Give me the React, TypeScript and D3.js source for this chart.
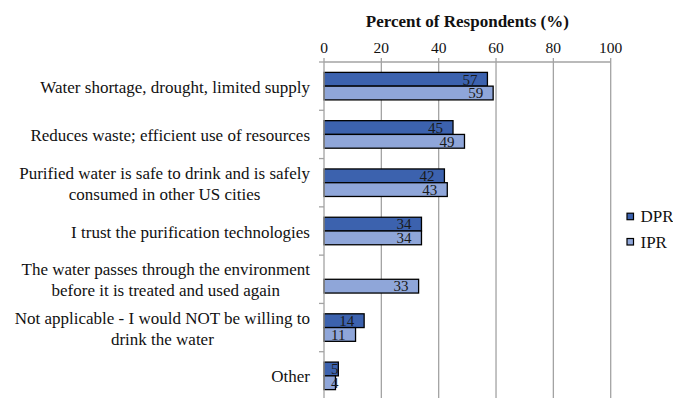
import React, { useEffect, useRef } from "react";
import * as d3 from "d3";

// Reasons given for willingness to drink purified water
const categories: string[] = [
  "Water shortage, drought, limited supply",
  "Reduces waste; efficient use of resources",
  "Purified water is safe to drink and is safely\nconsumed in other US cities",
  "I trust the purification technologies",
  "The water passes through the environment\nbefore it is treated and used again",
  "Not applicable - I would NOT be willing to\ndrink the water",
  "Other",
];
const seriesNames: string[] = ["DPR", "IPR"];
const dprValues: (number | null)[] = [57, 45, 42, 34, null, 14, 5];
const iprValues: (number | null)[] = [59, 49, 43, 34, 33, 11, 4];
const xTicks: number[] = [0, 20, 40, 60, 80, 100];
const axisTitle = "Percent of Respondents (%)";

const W = 673;
const H = 398;
const FONT = "Liberation Serif, Tinos, Times New Roman, Times, DejaVu Serif, serif";
const COLORS = ["#3c62ae", "#8fa6d9"];
const GRID = "#a3a3a3";

export default function App() {
  const ref = useRef<SVGSVGElement | null>(null);

  useEffect(() => {
    const svg = d3.select(ref.current);
    svg.selectAll("*").remove();

    const left = 324;
    const right = 610.7;
    const top = 62;
    const bottom = 400;

    const x = d3.scaleLinear().domain([0, 100]).range([left, right]);
    const y = d3
      .scaleBand<number>()
      .domain(d3.range(categories.length))
      .range([top, bottom]);
    const barH = y.bandwidth() * 0.285;

    const g = svg.append("g").style("font-family", FONT);

    // vertical gridlines
    g.selectAll("line.grid")
      .data(xTicks.filter((t) => t > 0))
      .join("line")
      .attr("x1", (d) => x(d))
      .attr("x2", (d) => x(d))
      .attr("y1", top)
      .attr("y2", bottom)
      .attr("stroke", GRID)
      .attr("stroke-width", 1.3);

    // top axis line and ticks
    g.append("line")
      .attr("x1", left)
      .attr("x2", right)
      .attr("y1", top)
      .attr("y2", top)
      .attr("stroke", GRID)
      .attr("stroke-width", 1.3);
    g.selectAll("line.xtick")
      .data(xTicks)
      .join("line")
      .attr("x1", (d) => x(d))
      .attr("x2", (d) => x(d))
      .attr("y1", top - 4)
      .attr("y2", top)
      .attr("stroke", GRID)
      .attr("stroke-width", 1.3);
    g.selectAll("text.xlab")
      .data(xTicks)
      .join("text")
      .attr("x", (d) => x(d))
      .attr("y", 53)
      .attr("text-anchor", "middle")
      .style("font-size", "15.5px")
      .attr("fill", "#111")
      .text((d) => String(d));

    g.append("text")
      .attr("x", (left + right) / 2)
      .attr("y", 27)
      .attr("text-anchor", "middle")
      .style("font-size", "17px")
      .style("font-weight", "bold")
      .attr("fill", "#111")
      .text(axisTitle);

    // bars
    const seriesData = [dprValues, iprValues];
    seriesData.forEach((vals, si) => {
      const rows = vals
        .map((v, i) => ({ v, i }))
        .filter((d) => d.v !== null) as { v: number; i: number }[];
      const yOf = (i: number) =>
        y(i)! + y.bandwidth() / 2 - barH + si * barH;

      g.selectAll(`rect.s${si}`)
        .data(rows)
        .join("rect")
        .attr("x", x(0))
        .attr("y", (d) => yOf(d.i))
        .attr("width", (d) => x(d.v) - x(0))
        .attr("height", barH)
        .attr("fill", COLORS[si])
        .attr("stroke", "#000")
        .attr("stroke-width", 1.3);

      const labels = g
        .selectAll(`text.l${si}`)
        .data(rows)
        .join("text")
        .attr("y", (d) => yOf(d.i) + barH / 2 + 5.3)
        .attr("text-anchor", "end")
        .style("font-size", "15px")
        .attr("fill", "#1a1a1a")
        .text((d) => String(d.v));
      labels.each(function (d) {
        const el = this as SVGTextElement;
        const w = el.getComputedTextLength();
        const xr = Math.max(x(d.v) - 10, x(0) + 7 + w);
        d3.select(el).attr("x", xr);
      });
    });

    // category axis
    g.append("line")
      .attr("x1", left)
      .attr("x2", left)
      .attr("y1", top)
      .attr("y2", bottom)
      .attr("stroke", GRID)
      .attr("stroke-width", 1.3);
    g.selectAll("line.ytick")
      .data(d3.range(categories.length + 1))
      .join("line")
      .attr("x1", left - 5)
      .attr("x2", left)
      .attr("y1", (d) => top + d * y.step())
      .attr("y2", (d) => top + d * y.step())
      .attr("stroke", GRID)
      .attr("stroke-width", 1.3);

    const labelRight = 310;
    categories.forEach((cat, i) => {
      const lines = cat.split("\n");
      const cy = y(i)! + y.bandwidth() / 2 + 1;
      const t = g
        .append("text")
        .style("font-size", "17px")
        .attr("fill", "#111")
        .attr("text-anchor", "middle");
      lines.forEach((ln, k) => {
        t.append("tspan")
          .attr("y", cy + 5.5 + (k - (lines.length - 1) / 2) * 21)
          .text(ln);
      });
      const tspans = t.selectAll<SVGTSpanElement, unknown>("tspan").nodes();
      const maxW = d3.max(tspans, (n) => n.getComputedTextLength()) || 0;
      t.selectAll("tspan").attr("x", labelRight - maxW / 2);
    });

    // legend
    const legY = [216.7, 242];
    seriesNames.forEach((name, si) => {
      g.append("rect")
        .attr("x", 627)
        .attr("y", legY[si] - 3.5)
        .attr("width", 6.5)
        .attr("height", 6.5)
        .attr("fill", COLORS[si])
        .attr("stroke", "#000")
        .attr("stroke-width", 1.2);
      g.append("text")
        .attr("x", 640.5)
        .attr("y", legY[si] + 5.5)
        .style("font-size", "17px")
        .attr("fill", "#111")
        .text(name);
    });
  }, []);

  return (
    <svg
      ref={ref}
      width={W}
      height={H}
      style={{ position: "absolute", left: 0, top: 0, background: "#fff" }}
    />
  );
}
